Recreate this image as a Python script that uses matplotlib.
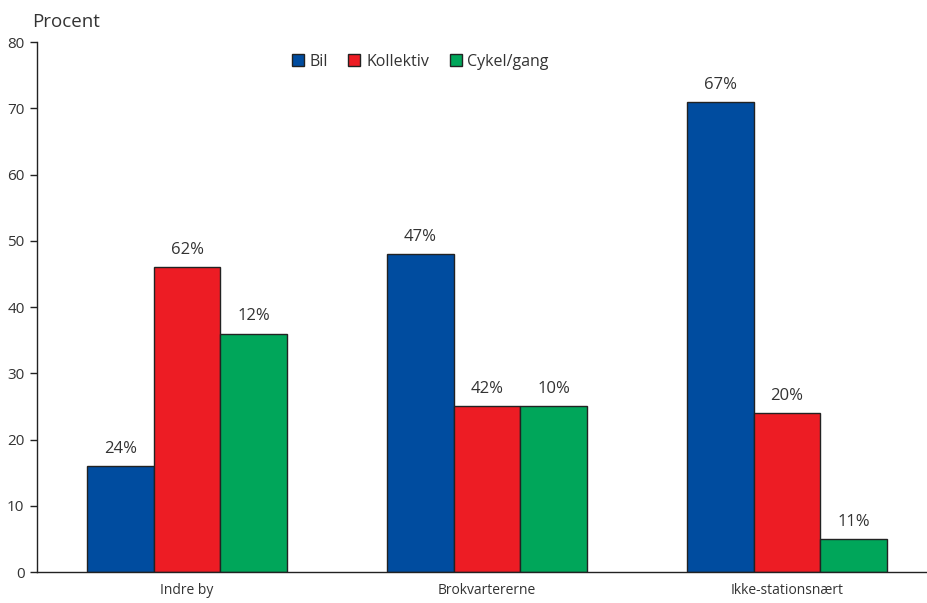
import numpy as np
import matplotlib
matplotlib.use("Agg")
import matplotlib.pyplot as plt

plt.rcParams['font.family'] = ['Open Sans', 'DejaVu Sans']

areas = ['Indre by', 'Brokvartererne', 'Ikke-stationsnært']
modes = ['Bil', 'Kollektiv', 'Cykel/gang']
colors = ['#004c9f', '#ed1c24', '#00a65a']

# bar heights on the Procent axis
bil = [16, 48, 71]
kollektiv = [46, 25, 24]
cykel = [36, 25, 5]

# shares printed above each bar
bil_labels = ['24%', '47%', '67%']
kollektiv_labels = ['62%', '42%', '20%']
cykel_labels = ['12%', '10%', '11%']

series = [bil, kollektiv, cykel]
series_labels = [bil_labels, kollektiv_labels, cykel_labels]

fig = plt.figure(figsize=(9.28, 6.03), dpi=100)
ax = fig.add_axes([0.0399, 0.0514, 0.9601, 0.8789])

x = np.arange(len(areas))
w = 0.222
txt = '#333333'
for i, (vals, labs) in enumerate(zip(series, series_labels)):
    pos = x + (i - 1) * w
    ax.bar(pos, vals, width=w, color=colors[i], edgecolor='#222222',
           linewidth=1, label=modes[i], zorder=2)
    for p, v, l in zip(pos, vals, labs):
        ax.annotate(l, (p, v), xytext=(0, 6.5), textcoords='offset points',
                    ha='center', va='bottom', fontsize=12, color=txt)

ax.set_xlim(-0.5, 2.47)
ax.set_ylim(0, 80)
ax.set_yticks(range(0, 81, 10))
ax.set_xticks(x)
ax.set_xticklabels(areas, fontsize=10, color=txt)
ax.tick_params(axis='x', length=0, pad=8)
ax.tick_params(axis='y', length=5, width=1, labelsize=11, labelcolor=txt,
               pad=4, color='#222222')
for s in ['top', 'right']:
    ax.spines[s].set_visible(False)
for s in ['left', 'bottom']:
    ax.spines[s].set_color('#222222')
    ax.spines[s].set_linewidth(1)

fig.text(0.035, 0.964, 'Procent', fontsize=13.5, color=txt, ha='left', va='center')

leg = ax.legend(loc='upper center', bbox_to_anchor=(0.43, 1.005), ncol=3,
                frameon=False, fontsize=11.5, handlelength=0.75,
                handleheight=0.75, handletextpad=0.35, columnspacing=1.3)
for t in leg.get_texts():
    t.set_color(txt)

fig.savefig('out.png', dpi=100)
